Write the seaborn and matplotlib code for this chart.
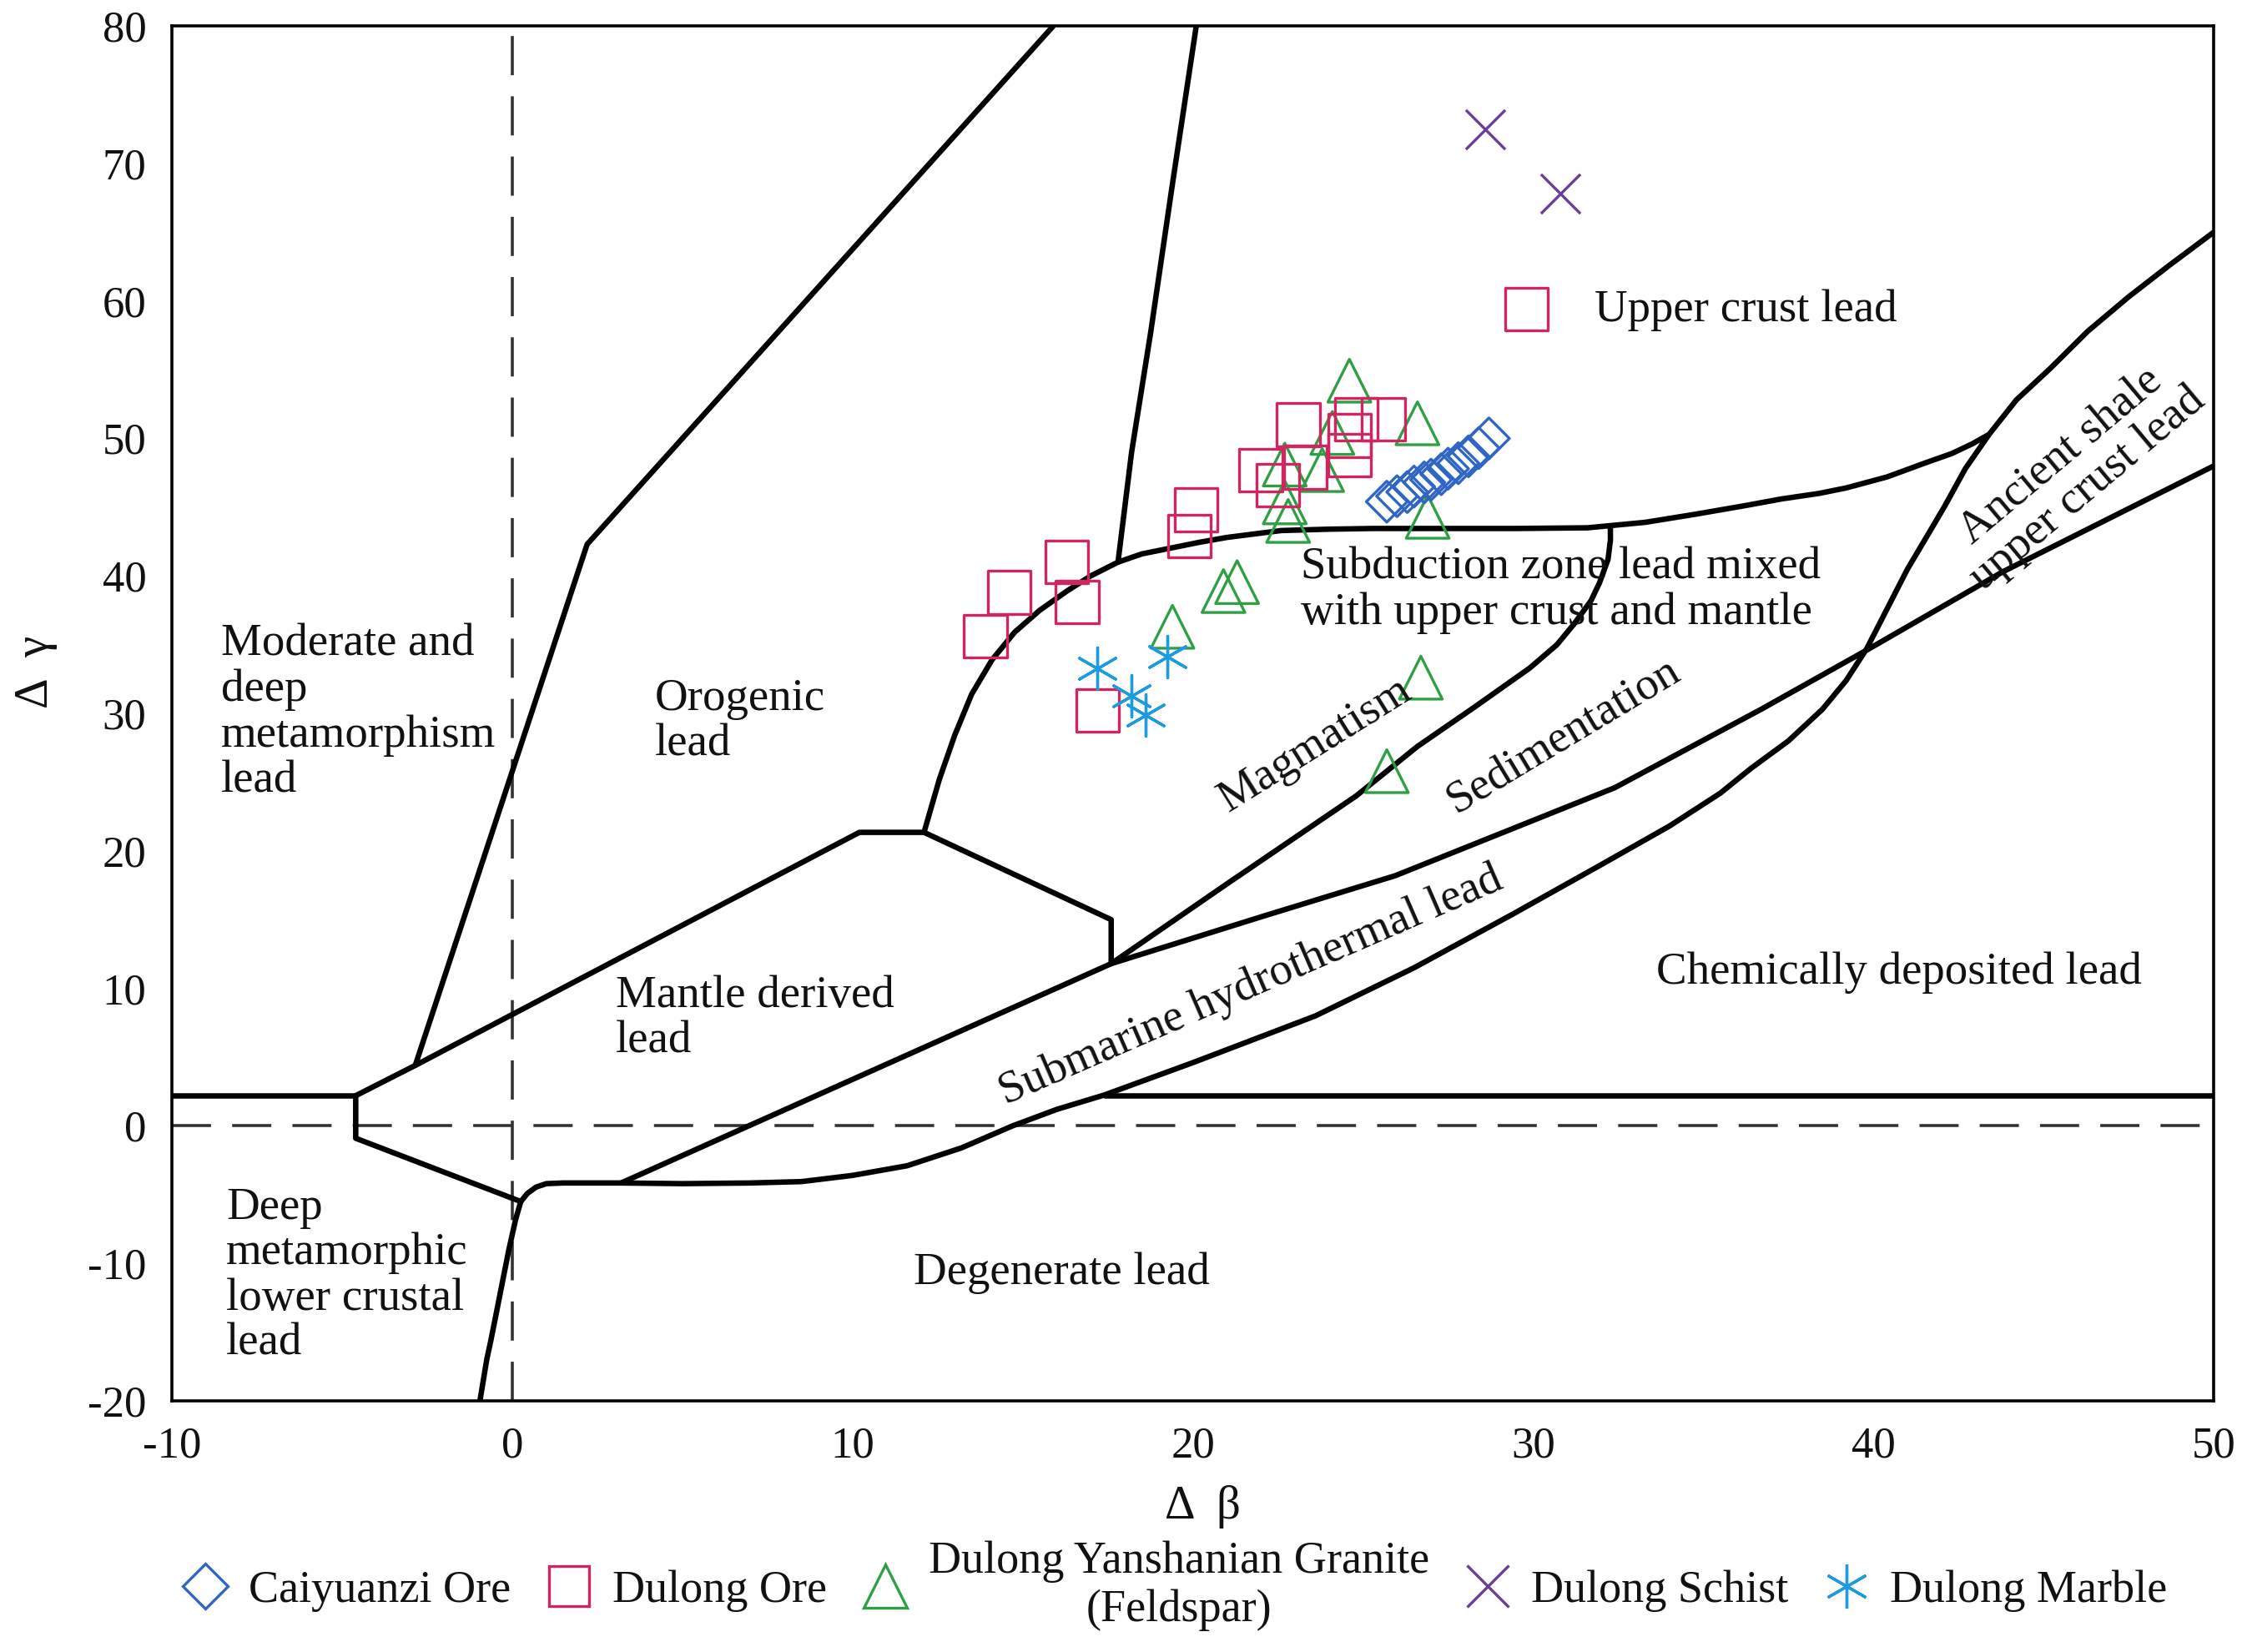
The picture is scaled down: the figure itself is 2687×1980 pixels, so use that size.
import numpy as np
import pandas as pd
import matplotlib
matplotlib.use("Agg")
import matplotlib.pyplot as plt
import seaborn as sns
from matplotlib.lines import Line2D

# ---------------- data ----------------
# sample points (Δβ, Δγ)
cai_beta = [25.7, 26.0, 26.3, 26.5, 26.8, 27.0, 27.3, 27.5, 27.8, 28.1, 28.4, 28.7]
cai_gamma = [45.4, 45.8, 46.1, 46.5, 46.8, 47.0, 47.4, 47.8, 48.2, 48.7, 49.3, 50.0]

ore_beta = [13.9, 14.6, 16.3, 16.6, 17.2, 20.1, 19.9, 22.0, 22.5, 23.3, 23.1, 24.8, 25.6, 24.6, 24.6, 29.8]
ore_gamma = [35.6, 38.8, 41.0, 38.1, 30.2, 44.8, 42.9, 47.7, 46.6, 47.9, 51.0, 51.4, 51.4, 50.2, 48.8, 59.4]

gra_beta = [24.6, 26.6, 24.1, 22.7, 23.8, 22.7, 22.8, 26.9, 21.3, 20.9, 19.4, 26.7, 25.7]
gra_gamma = [54.2, 51.1, 50.4, 48.1, 47.7, 45.35, 44.0, 44.3, 39.55, 38.9, 36.3, 32.6, 25.8]

sch_beta = [28.6, 30.8]
sch_gamma = [72.5, 67.8]

mar_beta = [17.2, 18.2, 18.6, 19.25]
mar_gamma = [33.3, 31.3, 29.9, 34.1]

series_names = ["Caiyuanzi Ore", "Dulong Ore", "Dulong Yanshanian Granite\n(Feldspar)",
                "Dulong Schist", "Dulong Marble"]

# field boundaries of the Δβ-Δγ diagram
b_left_h_x = [-10, -4.6]
b_left_h_y = [2.2, 2.2]
b_right_h_x = [17.4, 50]
b_right_h_y = [2.2, 2.2]
b_mantle_x = [0.25, -4.6, -4.6, -2.85, 10.2, 12.1, 17.6, 17.6]
b_mantle_y = [-5.5, -0.9, 2.2, 4.4, 21.35, 21.35, 15.0, 11.8]
b_orogen_left_x = [-2.85, 2.2, 15.9]
b_orogen_left_y = [4.4, 42.3, 80]
b_orogen_right_x = [20.1, 19.4, 18.76, 18.2, 17.8]
b_orogen_right_y = [80, 68.5, 57.7, 49.0, 41.0]
b_deep_x = [-0.95, -0.85, -0.75, -0.62, -0.5, -0.3, -0.1, 0.1, 0.25]
b_deep_y = [-20, -18.5, -17, -15.5, -14, -11.5, -9, -6.8, -5.5]
b_degen_x = [0.25, 0.45, 0.7, 1.0, 1.5, 3.2, 5.0, 7.0, 8.5, 10.0, 11.6, 13.2, 14.7, 16.0,
             17.4, 20.0, 23.6, 26.5, 29.4, 32.0, 34.0, 35.5, 36.4, 37.5, 38.5, 39.2, 39.8,
             40.4, 41.0, 41.6, 42.1, 42.7, 43.4, 44.2, 45.2, 46.3, 47.5, 48.7, 50.0]
b_degen_y = [-5.5, -4.9, -4.45, -4.2, -4.15, -4.15, -4.2, -4.15, -4.05, -3.6, -2.9, -1.6,
             0.0, 1.2, 2.25, 4.6, 8.0, 11.5, 15.4, 19.0, 21.8, 24.2, 26.0, 28.0, 30.3, 32.4,
             34.7, 37.6, 40.5, 43.0, 45.1, 47.8, 50.3, 52.8, 55.1, 57.8, 60.3, 62.6, 65.0]
b_hydro_x = [3.2, 17.6, 22.0, 25.95, 32.4, 36.7, 39.8, 43.8, 50.0]
b_hydro_y = [-4.15, 11.8, 15.2, 18.2, 24.6, 30.3, 34.6, 40.3, 48.0]
b_magma_x = [17.6, 21.0, 24.8, 26.6, 28.3, 29.9, 30.7, 31.2, 31.7, 31.95, 32.2, 32.27, 32.27]
b_magma_y = [11.8, 17.6, 24.0, 27.6, 30.5, 33.3, 35.0, 36.5, 38.2, 39.5, 41.2, 42.6, 43.5]
b_upper_x = [12.1, 12.55, 13.0, 13.5, 14.1, 14.76, 15.5, 16.3, 17.0, 17.8, 18.5, 19.3, 20.2,
             21.0, 22.6, 24.0, 25.3, 28.0, 29.5, 31.6, 33.3, 34.8, 36.2, 37.3, 38.4, 39.2,
             40.4, 41.5, 42.3, 42.9, 43.4]
b_upper_y = [21.35, 25.2, 28.4, 31.4, 33.9, 35.9, 37.5, 38.9, 40.0, 41.0, 41.6, 42.0, 42.45,
             42.8, 43.3, 43.4, 43.45, 43.45, 43.45, 43.5, 43.9, 44.5, 45.1, 45.6, 46.0, 46.4,
             47.2, 48.2, 48.9, 49.6, 50.3]

boundaries = [
    (b_left_h_x, b_left_h_y), (b_right_h_x, b_right_h_y), (b_mantle_x, b_mantle_y),
    (b_orogen_left_x, b_orogen_left_y), (b_orogen_right_x, b_orogen_right_y),
    (b_deep_x, b_deep_y), (b_degen_x, b_degen_y), (b_hydro_x, b_hydro_y),
    (b_magma_x, b_magma_y), (b_upper_x, b_upper_y),
]

x_ticks = [-10, 0, 10, 20, 30, 40, 50]
y_ticks = [-20, -10, 0, 10, 20, 30, 40, 50, 60, 70, 80]

# ---------------- style ----------------
sns.set_theme(style="white")
plt.rcParams["font.family"] = ["Liberation Serif", "DejaVu Serif"]
plt.rcParams["axes.unicode_minus"] = False

c_cai = "#2f66c4"
c_ore = "#d02660"
c_gra = "#2ea043"
c_sch = "#6a3d9a"
c_mar = "#1d9be0"

FS = 39.5
fig = plt.figure(figsize=(26.87, 19.80), dpi=100)
ax = fig.add_axes([0.0767, 0.152, 0.9107, 0.8323])
ax.set_xlim(-10, 50)
ax.set_ylim(-20, 80)

# reference dashed lines
ax.axhline(0, color="#333333", lw=2.6, dashes=(13, 7), zorder=1)
ax.axvline(0, color="#333333", lw=2.6, dashes=(13, 7), zorder=1)

for bx, by in boundaries:
    sns.lineplot(x=bx, y=by, sort=False, estimator=None, color="black", lw=4.7,
                 ax=ax, zorder=2, legend=False)

mlw = 2.4
sns.scatterplot(x=gra_beta, y=gra_gamma, marker="^", s=37**2, facecolors="none",
                edgecolor=c_gra, linewidth=mlw, ax=ax, zorder=3, legend=False)
sns.scatterplot(x=ore_beta, y=ore_gamma, marker="s", s=37**2, facecolors="none",
                edgecolor=c_ore, linewidth=mlw, ax=ax, zorder=3, legend=False)
sns.scatterplot(x=cai_beta, y=cai_gamma, marker="D", s=25**2, facecolors="none",
                edgecolor=c_cai, linewidth=mlw, ax=ax, zorder=4, legend=False)
sns.scatterplot(x=sch_beta, y=sch_gamma, marker="x", s=34**2, color=c_sch,
                linewidth=mlw, ax=ax, zorder=4, legend=False)
sns.scatterplot(x=mar_beta, y=mar_gamma, marker=(6, 2, 0), s=36**2, color=c_mar,
                linewidth=mlw, ax=ax, zorder=4, legend=False)

# region labels
tk = dict(fontsize=FS, color="#111111", zorder=5)
ax.text(-8.55, 30.05, "Moderate and\ndeep\nmetamorphism\nlead", ha="left", va="center",
        linespacing=1.1, **tk)
ax.text(4.2, 29.4, "Orogenic\nlead", ha="left", va="center", linespacing=1.1, **tk)
ax.text(3.05, 7.8, "Mantle derived\nlead", ha="left", va="center", linespacing=1.1, **tk)
ax.text(-8.4, -10.9, "Deep\nmetamorphic\nlower crustal\nlead", ha="left", va="center",
        linespacing=1.1, **tk)
ax.text(23.18, 38.96, "Subduction zone lead mixed\nwith upper crust and mantle",
        ha="left", va="center", linespacing=1.1, **tk)
ax.text(31.8, 59.3, "Upper crust lead", ha="left", va="center", **tk)
ax.text(16.15, -10.7, "Degenerate lead", ha="center", va="center", **tk)
ax.text(40.74, 11.15, "Chemically deposited lead", ha="center", va="center", **tk)
ax.text(23.6, 27.7, "Magmatism", ha="center", va="center", rotation=32,
        rotation_mode="anchor", **tk)
ax.text(30.9, 28.3, "Sedimentation", ha="center", va="center", rotation=31,
        rotation_mode="anchor", **tk)
ax.text(21.7, 10.2, "Submarine hydrothermal lead", ha="center", va="center",
        rotation=23.5, rotation_mode="anchor", **tk)
ax.text(45.9, 47.5, "Ancient shale\nupper crust lead", ha="center", va="center",
        rotation=40, rotation_mode="anchor", linespacing=1.0, multialignment="center", **tk)

# axes styling
ax.set_xticks(x_ticks)
ax.set_yticks(y_ticks)
ax.set_xticklabels([str(v) for v in x_ticks])
ax.set_yticklabels([str(v) for v in y_ticks])
ax.tick_params(axis="both", direction="in", length=30, width=3.5, labelsize=38,
               color="black", labelcolor="#111111")
ax.tick_params(axis="x", pad=22)
ax.tick_params(axis="y", pad=22)
ax.tick_params(top=False, right=False)
for sp in ax.spines.values():
    sp.set_color("black")
    sp.set_linewidth(2.6)
ax.grid(False)

ax.set_xlabel("Δ  β", fontsize=41, color="#111111")
ax.set_ylabel("Δ  γ", fontsize=41, color="#111111")
ax.xaxis.set_label_coords(0.505, -0.061)
ax.yaxis.set_label_coords(-0.056, 0.53)

# legend
handles = [
    Line2D([], [], ls="none", marker="D", ms=28, mfc="none", mec=c_cai, mew=mlw),
    Line2D([], [], ls="none", marker="s", ms=35, mfc="none", mec=c_ore, mew=mlw),
    Line2D([], [], ls="none", marker="^", ms=37, mfc="none", mec=c_gra, mew=mlw),
    Line2D([], [], ls="none", marker="x", ms=36, mec=c_sch, mew=mlw),
    Line2D([], [], ls="none", marker=(6, 2, 0), ms=38, mec=c_mar, mew=mlw),
]
leg = fig.legend(handles, series_names, loc="center", bbox_to_anchor=(0.524, 0.040),
                 ncol=5, frameon=False, fontsize=39, handlelength=1.0,
                 handletextpad=0.45, columnspacing=0.8)
for t in leg.get_texts():
    t.set_multialignment("center")
    t.set_color("#111111")

fig.savefig("out.png", dpi=100, facecolor="white")
